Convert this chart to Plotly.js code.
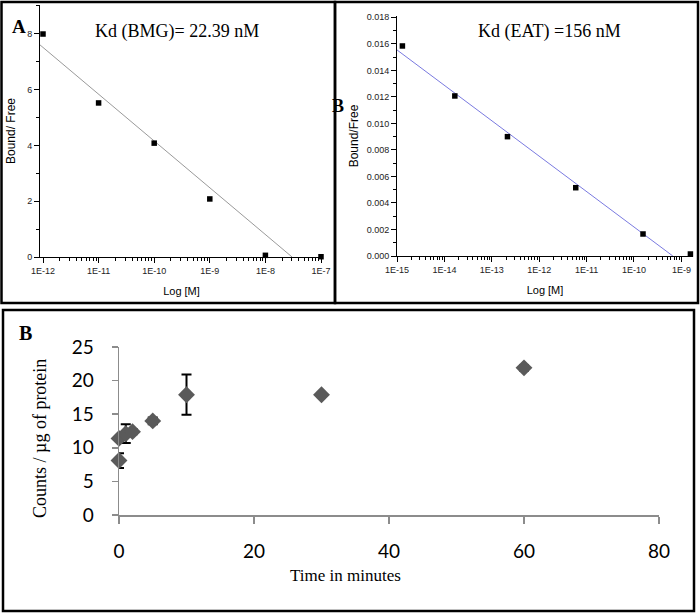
<!DOCTYPE html>
<html>
<head>
<meta charset="utf-8">
<script src="https://cdn.plot.ly/plotly-3.0.1.min.js"></script>
<style>html,body{margin:0;padding:0;background:#fff;} #chart{width:700px;height:613px;}</style>
</head>
<body>
<div id="chart"></div>
<script>
// ---------- Panel A : Kd (BMG) ----------
const concA = [1e-12, 1e-11, 1e-10, 1e-9, 1e-8, 1e-7];
const boundFreeA = [7.99, 5.52, 4.08, 2.08, 0.06, 0.01];
const fitA_x = [8.83e-13, 3.02e-8];
const fitA_y = [7.6, 0];
const tickValsA = [1e-12, 1e-11, 1e-10, 1e-9, 1e-8, 1e-7];
const tickTextA = ["1E-12", "1E-11", "1E-10", "1E-9", "1E-8", "1E-7"];

// ---------- Panel B : Kd (EAT) ----------
const concB = [1.3e-15, 1.66e-14, 2.14e-13, 5.9e-12, 1.55e-10, 1.55e-9];
const boundFreeB = [0.01584, 0.01207, 0.0090, 0.00515, 0.00166, 0.00015];
const fitB_x = [1e-15, 6.6e-10];
const fitB_y = [0.01554, 0];
const tickValsB = [1e-15, 1e-14, 1e-13, 1e-12, 1e-11, 1e-10, 1e-9];
const tickTextB = ["1E-15", "1E-14", "1E-13", "1E-12", "1E-11", "1E-10", "1E-9"];

// ---------- Bottom panel : time course ----------
const timeMin = [0, 0, 1, 2, 5, 10, 30, 60];
const counts = [8.1, 11.4, 12.1, 12.4, 14.0, 17.9, 17.9, 21.9];
const countsErr = [1.1, 0.6, 1.4, 0.4, 0.5, 3.0, 0.2, 0.4];

const serif = "Liberation Serif, Times New Roman, serif";
const sans = "Liberation Sans, Arial, sans-serif";

// minor log tick positions (2..9 within each decade) – axis styling only
function minorLogTicks(decades) {
  const out = [];
  decades.forEach(d => { for (let k = 2; k <= 9; k++) out.push(k * d); });
  return out;
}

const traces = [
  {x: fitA_x, y: fitA_y, xaxis: "x", yaxis: "y", mode: "lines",
   line: {color: "#9a9a9a", width: 1}, hoverinfo: "skip"},
  {x: concA, y: boundFreeA, xaxis: "x", yaxis: "y", mode: "markers",
   marker: {symbol: "square", size: 5.5, color: "#000"}, cliponaxis: false},
  {x: fitB_x, y: fitB_y, xaxis: "x2", yaxis: "y2", mode: "lines",
   line: {color: "#7a7ae0", width: 1}, hoverinfo: "skip"},
  {x: concB, y: boundFreeB, xaxis: "x2", yaxis: "y2", mode: "markers",
   marker: {symbol: "square", size: 5.5, color: "#000"}, cliponaxis: false},
  {x: timeMin, y: counts, xaxis: "x3", yaxis: "y3", mode: "markers",
   marker: {symbol: "diamond", size: 13, color: "#5a5a5a"},
   error_y: {type: "data", array: countsErr, visible: true, color: "#000", thickness: 2, width: 5},
   cliponaxis: false}
];

const logAxisCommon = {
  type: "log", showgrid: false, zeroline: false, showline: true, linecolor: "#000", linewidth: 1,
  ticks: "outside", ticklen: 5, tickcolor: "#000", tickmode: "array",
  tickfont: {family: sans, size: 9, color: "#222"}
};
const linAxisCommon = {
  showgrid: false, zeroline: false, showline: true, linecolor: "#000", linewidth: 1,
  ticks: "outside", ticklen: 5, tickcolor: "#000",
  tickfont: {family: sans, size: 9, color: "#222"}
};

const layout = {
  width: 700, height: 613,
  margin: {l: 0, r: 0, t: 0, b: 0},
  paper_bgcolor: "#fff", plot_bgcolor: "rgba(0,0,0,0)",
  showlegend: false,
  xaxis: Object.assign({}, logAxisCommon, {
    domain: [40/700, 323/700], range: [-12.054, -6.964],
    tickvals: tickValsA, ticktext: tickTextA, anchor: "y",
    minor: {tickmode: "array", tickvals: minorLogTicks(tickValsA), ticks: "outside", ticklen: 3,
            tickcolor: "#000", showgrid: false},
    title: {text: "Log [M]", font: {family: sans, size: 11, color: "#000"}, standoff: 12}
  }),
  yaxis: Object.assign({}, linAxisCommon, {
    domain: [1 - 257/613, 1 - 5/613], range: [0, 9.03], dtick: 2, tick0: 0, anchor: "x",
    minor: {ticks: "outside", ticklen: 3, tickcolor: "#000", dtick: 1, showgrid: false},
    title: {text: "Bound/ Free", font: {family: sans, size: 12, color: "#000"}, standoff: 8}
  }),
  xaxis2: Object.assign({}, logAxisCommon, {
    domain: [397/700, 693/700], range: [-15, -8.755],
    tickvals: tickValsB, ticktext: tickTextB, anchor: "y2",
    minor: {tickmode: "array", tickvals: minorLogTicks(tickValsB), ticks: "outside", ticklen: 3,
            tickcolor: "#000", showgrid: false},
    title: {text: "Log [M]", font: {family: sans, size: 11, color: "#000"}, standoff: 12}
  }),
  yaxis2: Object.assign({}, linAxisCommon, {
    domain: [1 - 256/613, 1 - 16/613], range: [0, 0.0181], dtick: 0.002, tick0: 0,
    tickformat: ".3f", anchor: "x2",
    minor: {ticks: "outside", ticklen: 3, tickcolor: "#000", dtick: 0.001, showgrid: false},
    title: {text: "Bound/Free", font: {family: sans, size: 12, color: "#000"}, standoff: 5}
  }),
  xaxis3: {
    domain: [119/700, 659/700], range: [0, 80], dtick: 20, tick0: 0, anchor: "y3",
    showgrid: false, zeroline: false, showline: true, linecolor: "#8c8c8c", linewidth: 1.5,
    ticks: "outside", ticklen: 7, tickcolor: "#8c8c8c", tickwidth: 1.5,
    tickfont: {family: "Lato, Carlito, sans-serif", size: 19, color: "#000"},
    ticklabelstandoff: 12
  },
  yaxis3: {
    domain: [1 - 515/613, 1 - 347/613], range: [0, 25], dtick: 5, tick0: 0, anchor: "x3",
    showgrid: false, zeroline: false, showline: true, linecolor: "#8c8c8c", linewidth: 1.5,
    ticks: "outside", ticklen: 6, tickcolor: "#8c8c8c", tickwidth: 1.5,
    tickfont: {family: "Lato, Carlito, sans-serif", size: 19, color: "#000"},
    ticklabelstandoff: 14
  },
  shapes: [
    {type: "rect", xref: "paper", yref: "paper", x0: 1.5/700, x1: 335/700, y0: 1 - 303/613, y1: 1 - 2/613,
     line: {color: "#000", width: 2.5}},
    {type: "rect", xref: "paper", yref: "paper", x0: 335/700, x1: 698/700, y0: 1 - 303/613, y1: 1 - 2/613,
     line: {color: "#000", width: 2.5}},
    {type: "rect", xref: "paper", yref: "paper", x0: 3/700, x1: 694/700, y0: 1 - 611/613, y1: 1 - 310/613,
     line: {color: "#000", width: 2.5}}
  ],
  annotations: [
    {text: "<b>A</b>", xref: "paper", yref: "paper", x: 19/700, y: 1 - 26/613, showarrow: false,
     xanchor: "center", yanchor: "middle", font: {family: serif, size: 19, color: "#000"}},
    {text: "Kd (BMG)= 22.39 nM", xref: "paper", yref: "paper", x: 177/700, y: 1 - 32/613, showarrow: false,
     xanchor: "center", yanchor: "middle", font: {family: serif, size: 18, color: "#000"}},
    {text: "<b>B</b>", xref: "paper", yref: "paper", x: 338/700, y: 1 - 106/613, showarrow: false,
     xanchor: "center", yanchor: "middle", font: {family: serif, size: 18, color: "#000"}},
    {text: "Kd (EAT) =156 nM", xref: "paper", yref: "paper", x: 549/700, y: 1 - 32/613, showarrow: false,
     xanchor: "center", yanchor: "middle", font: {family: serif, size: 18, color: "#000"}},
    {text: "<b>B</b>", xref: "paper", yref: "paper", x: 25/700, y: 1 - 333/613, showarrow: false,
     xanchor: "center", yanchor: "middle", font: {family: serif, size: 20, color: "#000"}},
    {text: "Time in minutes", xref: "paper", yref: "paper", x: 345/700, y: 1 - 575/613, showarrow: false,
     xanchor: "center", yanchor: "middle", font: {family: serif, size: 17, color: "#000"}},
    {text: "Counts / µg of protein", xref: "paper", yref: "paper", x: 40/700, y: 1 - 439/613, showarrow: false,
     textangle: -90, xanchor: "center", yanchor: "middle", font: {family: serif, size: 18, color: "#000"}}
  ]
};

Plotly.newPlot("chart", traces, layout, {displayModeBar: false, staticPlot: true});
</script>
</body>
</html>
